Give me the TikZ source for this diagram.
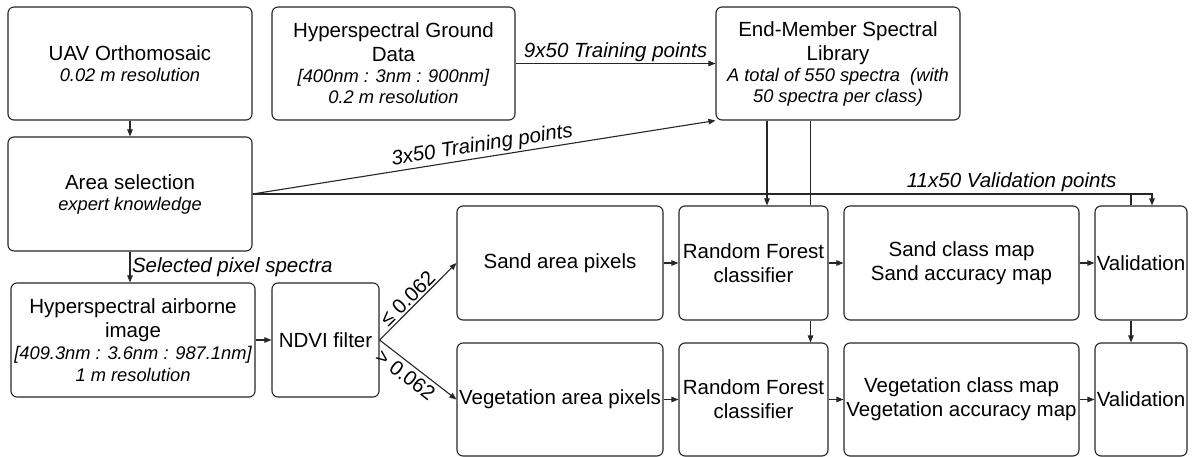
\documentclass[tikz,border=0pt]{standalone}
\usepackage{fontspec}
\setmainfont{Liberation Sans}
\usetikzlibrary{arrows.meta}
\newcommand{\itl}[1]{{\fontsize{18.3}{22}\selectfont\itshape #1}}
\tikzset{
  box/.style={draw=black!85, line width=1.1pt, rounded corners=6pt, fill=white,
    align=center, inner sep=0pt, font=\fontsize{20.5}{24}\selectfont},
  arr/.style={-{Triangle[length=7pt,width=5.5pt]}, line width=1.1pt, draw=black!85},
  ln/.style={line width=1.1pt, draw=black!85},
  lbl/.style={font=\fontsize{20.5}{24}\selectfont\itshape, inner sep=1.5pt},
  cond/.style={font=\fontsize{20.5}{24}\selectfont, inner sep=1.5pt}
}
\begin{document}
\begin{tikzpicture}[x=1pt,y=-1pt]
\useasboundingbox (0,0) rectangle (1192,457);
% top row
\node[box, minimum width=244pt, minimum height=113pt] (uav) at (130,63.5)
  {UAV Orthomosaic\\[-3pt]\itl{0.02 m resolution}};
\node[box, minimum width=243pt, minimum height=113pt] (ground) at (393.5,63.5)
  {Hyperspectral Ground\\Data\\[-3pt]\itl{[400nm : 3nm : 900nm]}\\[-3pt]\itl{0.2 m resolution}};
\node[box, minimum width=244pt, minimum height=113pt] (em) at (838,63.5)
  {End-Member Spectral\\Library\\[-3pt]\itl{A total of 550 spectra~ (with}\\[-3pt]\itl{50 spectra per class)}};
% area selection
\node[box, minimum width=244pt, minimum height=114pt] (area) at (130,194)
  {Area selection\\[-3pt]\itl{expert knowledge}};
% airborne + ndvi
\node[box, minimum width=244pt, minimum height=114pt] (air) at (133,340)
  {Hyperspectral airborne\\image\\[-2pt]\itl{[409.3nm : 3.6nm : 987.1nm]}\\[-2pt]\itl{1 m resolution}};
\node[box, minimum width=107pt, minimum height=114pt] (ndvi) at (325.5,340) {NDVI filter};
% row 1
\node[box, minimum width=206pt, minimum height=114pt] (sand) at (560,263) {Sand area pixels};
\node[box, minimum width=149pt, minimum height=114pt] (rf1) at (753.5,263) {Random Forest\\classifier};
\node[box, minimum width=235pt, minimum height=114pt] (cm1) at (961.5,263) {Sand class map\\Sand accuracy map};
\node[box, minimum width=92pt, minimum height=114pt] (val1) at (1141,263) {Validation};
% row 2
\node[box, minimum width=206pt, minimum height=113pt] (veg) at (560,399.5) {Vegetation area pixels};
\node[box, minimum width=149pt, minimum height=113pt] (rf2) at (753.5,399.5) {Random Forest\\classifier};
\node[box, minimum width=235pt, minimum height=113pt] (cm2) at (961.5,399.5) {Vegetation class map\\Vegetation accuracy map};
\node[box, minimum width=92pt, minimum height=113pt] (val2) at (1141,399.5) {Validation};

% helper coordinates
\coordinate (ax) at ([xshift=13.5pt]rf1.north);
\coordinate (bx) at ([xshift=57pt]rf1.north);
\coordinate (vx) at ([xshift=11pt]val1.north);
\coordinate (wx) at ([xshift=-10pt]val1.north);

% connectors
\draw[arr] (uav) -- (area);
\draw[arr] (area.south) -- (area.south |- air.north)
  node[midway, right, lbl] {Selected pixel spectra};
\draw[arr] (ground.east) -- (ground.east -| em.west)
  node[midway, above, lbl] {9x50 Training points};
\draw[arr] (area.east) -- (em.south west)
  node[midway, sloped, above, lbl] {3x50 Training points};
\draw[arr] (area.east) -- (area.east -| vx)
  node[pos=0.844, above, lbl] {11x50 Validation points} -- (vx);
\draw[ln] (area.east -| wx) -- (wx);
\draw[arr] ([xshift=-10pt]val1.south) -- ([xshift=-10pt]val2.north);
\draw[arr] (em.south -| ax) -- (ax);
\draw[ln] (em.south -| bx) -- (bx);
\draw[arr] ([xshift=57pt]rf1.south) -- ([xshift=57pt]rf2.north);

\draw[arr] (air) -- (ndvi);
\draw[arr] (ndvi.east) -- (sand.west) node[pos=0.45, sloped, above, cond] {≤ 0.062};
\draw[arr] (ndvi.east) -- (veg.west) node[pos=0.43, sloped, below, cond, inner sep=4pt] {> 0.062};

\draw[arr] (sand) -- (rf1);
\draw[arr] (rf1) -- (cm1);
\draw[arr] (cm1) -- (val1);
\draw[arr] (veg) -- (rf2);
\draw[arr] (rf2) -- (cm2);
\draw[arr] (cm2) -- (val2);
\end{tikzpicture}
\end{document}
